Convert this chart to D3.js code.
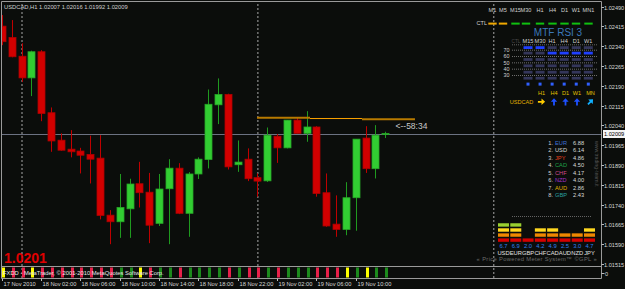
<!DOCTYPE html>
<html><head><meta charset="utf-8">
<script src="https://cdn.jsdelivr.net/npm/d3@7"></script>
<style>
html,body{margin:0;padding:0;background:#0b0d0b;overflow:hidden;}
svg{display:block;}
text{font-family:"Liberation Sans",Arial,sans-serif;}
</style></head><body>
<svg id="c" width="625" height="289"></svg>
<script>
// ---------------- DATA ----------------
const symbol = "USDCAD,H1";
const headerOHLC = ["1.02007","1.02016","1.01992","1.02009"];
const opens  = [1.02416,1.02373,1.02302,1.02220,1.02319,1.02088,1.01984,1.01950,1.01943,1.01930,1.01916,1.01700,1.01675,1.01724,1.01819,1.01787,1.01669,1.01800,1.01878,1.01707,1.01856,1.01911,1.02118,1.02157,1.01891,1.01912,1.01842,1.01830,1.01999,1.01955,1.02060,1.02010,1.02034,1.01785,1.01666,1.01646,1.01766,1.01992,1.01876,1.02007];
const highs  = [1.02458,1.02439,1.02351,1.02323,1.02325,1.02108,1.02010,1.02022,1.01955,1.02001,1.02003,1.01719,1.01856,1.01838,1.01902,1.01860,1.01856,1.01912,1.01897,1.01863,1.01919,1.02176,1.02218,1.02160,1.01983,1.01953,1.01858,1.02032,1.02007,1.02060,1.02070,1.02094,1.02037,1.01858,1.01775,1.01825,1.01988,1.02037,1.02041,1.02016];
const lows   = [1.02344,1.02298,1.02205,1.02151,1.02056,1.01940,1.01944,1.01919,1.01858,1.01820,1.01684,1.01590,1.01614,1.01614,1.01729,1.01594,1.01659,1.01590,1.01704,1.01618,1.01837,1.01877,1.02045,1.01873,1.01864,1.01829,1.01770,1.01826,1.01898,1.01953,1.02010,1.01978,1.01770,1.01656,1.01618,1.01624,1.01641,1.01860,1.01839,1.01992];
const closes = [1.02357,1.02300,1.02220,1.02319,1.02085,1.01981,1.01946,1.01940,1.01927,1.01912,1.01699,1.01675,1.01729,1.01818,1.01785,1.01662,1.01799,1.01878,1.01707,1.01856,1.01912,1.02120,1.02157,1.01883,1.01901,1.01838,1.01829,1.02003,1.01955,1.02060,1.02010,1.02034,1.01782,1.01659,1.01646,1.01766,1.01988,1.01876,1.02003,1.02009];
const signals = ["y","r","r","y","r","r","r","r","r","r","r","r","g","g","y","r","g","g","r","g","g","g","g","r","g","r","r","g","r","g","g","g","r","r","r","y","g","y","g","g"];
const priceTicks = [1.02490,1.02415,1.02340,1.02265,1.02190,1.02115,1.02040,1.01965,1.01890,1.01815,1.01740,1.01665,1.01590,1.01515];
const bidPrice = 1.02009;
const timeLabels = ["17 Nov 2010","18 Nov 02:00","18 Nov 06:00","18 Nov 10:00","18 Nov 14:00","18 Nov 18:00","18 Nov 22:00","19 Nov 02:00","19 Nov 06:00","19 Nov 10:00"];
const timeLabelBars = [0,4,8,12,16,20,24,28,32,36];
const separatorBars = [2,26,50];
const pivotStart = [25.96,31.35,36.64];
const pivotEnd   = [31.35,36.64,42.03];
const pivotPrice = [1.02069,1.02066,1.02063];
const countdown = "<--58:34";
const bigPrice = "1.0201";
const copyright = "FXDD - MetaTrader, © 2001-2010 MetaQuotes Software Corp.";

const tfTop = ["M1","M5","M15","M30","H1","H4","D1","W1","MN1"];
const ctlState = ["o","o","g","g","g","g","g","g","g"];
const rsiTf = ["M15","M30","H1","H4","D1","W1"];
const rsiValues = [74,73,66,65,64,63];
const rsiLevels = [70,60,50,40,30];
const trendTf = ["H1","H4","D1","W1","MN"];
const trendDir = ["right","up","up","up","upright"];
const pairName = "USDCAD";
const rankNames = ["EUR","USD","JPY","CAD","CHF","NZD","AUD","GBP"];
const rankValues = ["6.88","6.14","4.86","4.50","4.17","4.00","2.86","2.43"];
const rankColors = ["#3f6fd6","#d8d8d8","#e8401a","#1fa048","#d04a8a","#a030c8","#e0b000","#2aa0a0"];
const meterNames = ["USD","EUR","GBP","CHF","CAD","AUD","NZD","JPY"];
const meterValues = [6.7,6.9,2.0,4.2,4.9,2.5,3.0,4.7];

// ---------------- CHART ----------------
const svg = d3.select("#c");
const BG = "#0b0d0b";
svg.append("rect").attr("width",625).attr("height",289).attr("fill",BG);

const x = d3.scaleLinear().domain([2,26]).range([21.5,257.4]);
const y = d3.scaleLinear().domain([1.01515,1.02490]).range([264,6.6]);
const plotL = 1.5, plotR = 601.5, mainT = 1.5, mainB = 266.5, subT = 266.5, subB = 278.5;

const defs = svg.append("defs");
defs.append("clipPath").attr("id","mainClip").append("rect")
  .attr("x",plotL+0.5).attr("y",mainT+0.5).attr("width",plotR-plotL-1).attr("height",mainB-mainT-1);
defs.append("clipPath").attr("id","subClip").append("rect")
  .attr("x",plotL+0.5).attr("y",subT+0.5).attr("width",plotR-plotL-1).attr("height",subB-subT-1);

const main = svg.append("g").attr("clip-path","url(#mainClip)");
const sub = svg.append("g").attr("clip-path","url(#subClip)");

// day separators
separatorBars.forEach(b=>{
  [main,sub].forEach(g=>g.append("line").attr("x1",x(b)+0.5).attr("x2",x(b)+0.5)
    .attr("y1",0).attr("y2",289).attr("stroke","#a8a8a8").attr("stroke-width",1).attr("stroke-dasharray","2,2"));
});

// bid line
main.append("line").attr("x1",0).attr("x2",plotR).attr("y1",Math.round(y(bidPrice))+0.5).attr("y2",Math.round(y(bidPrice))+0.5)
  .attr("stroke","#6c7282").attr("stroke-width",1);

// candles
const bars = d3.range(opens.length).map(i=>({i,o:opens[i],h:highs[i],l:lows[i],c:closes[i]}));
const cg = main.append("g");
bars.forEach(d=>{
  const up = d.c >= d.o;
  const cx = Math.round(x(d.i))+0.5;
  cg.append("line").attr("x1",cx).attr("x2",cx).attr("y1",y(d.h)).attr("y2",y(d.l))
    .attr("stroke", up ? "#1f9a1f" : "#c00000").attr("stroke-width",1);
  const top = y(Math.max(d.o,d.c)), bot = y(Math.min(d.o,d.c));
  cg.append("rect").attr("x",cx-3.5).attr("y",top).attr("width",7).attr("height",Math.max(1,bot-top))
    .attr("fill", up ? "#32cd32" : "#d20000").attr("stroke", up ? "#27a827" : "#b00000").attr("stroke-width",0.8);
});

// pivot (orange) line
const pivColors = ["#b87a00","#ffa500","#b87a00"], pivW = [2,1,2];
pivotStart.forEach((s,k)=>{
  main.append("line").attr("x1",x(s)).attr("x2",x(pivotEnd[k])).attr("y1",y(pivotPrice[k])).attr("y2",y(pivotPrice[k]))
    .attr("stroke",pivColors[k]).attr("stroke-width",pivW[k]);
});
// countdown
main.append("text").attr("x",x(opens.length)+0.5).attr("y",y(bidPrice)-5).attr("font-size",8.5)
  .attr("fill","#c8c8c8").text(countdown);

// header
svg.append("text").attr("x",4).attr("y",8.6).attr("font-size",5.8).attr("fill","#cfcfcf")
  .text(symbol+"  "+headerOHLC.join(" "));

// big price
svg.append("text").attr("x",4).attr("y",262.5).attr("font-size",14).attr("font-weight","bold")
  .attr("fill","#e00000").text(bigPrice);

// sub window signal bars
const sigColor = {r:"#e8204a",g:"#1c8a1c",y:"#ffff00"};
sub.selectAll("rect.sig").data(signals).join("rect").attr("class","sig")
  .attr("x",(d,i)=>Math.round(x(i))).attr("y",subT+1).attr("width",3).attr("height",subB-subT-2)
  .attr("fill",d=>sigColor[d]);
sub.append("text").attr("x",3).attr("y",274.8).attr("font-size",5.8).attr("fill","#e8e8e8").text(copyright);

// frame lines
const frame = svg.append("g").attr("stroke","#9a9a9a").attr("stroke-width",1);
frame.append("line").attr("x1",plotL).attr("x2",plotR).attr("y1",mainT).attr("y2",mainT);
frame.append("line").attr("x1",plotL).attr("x2",plotL).attr("y1",mainT).attr("y2",subB);
frame.append("line").attr("x1",plotL).attr("x2",plotR).attr("y1",mainB).attr("y2",mainB);
frame.append("line").attr("x1",plotL).attr("x2",plotR).attr("y1",subB).attr("y2",subB);
frame.append("line").attr("x1",plotR).attr("x2",plotR).attr("y1",mainT).attr("y2",subB);

// right price axis
const axG = svg.append("g");
priceTicks.forEach(p=>{
  const yy = Math.round(y(p))+0.5;
  axG.append("line").attr("x1",plotR).attr("x2",plotR+2.5).attr("y1",yy).attr("y2",yy).attr("stroke","#bdbdbd");
  axG.append("text").attr("x",604).attr("y",yy+2).attr("font-size",5.6).attr("fill","#d8d8d8").text(p.toFixed(5));
});
// bid label box
const by = Math.round(y(bidPrice));
axG.append("rect").attr("x",603).attr("y",by-4).attr("width",22).attr("height",8).attr("fill","#f4f4f4");
axG.append("text").attr("x",604).attr("y",by+2.2).attr("font-size",5.6).attr("fill","#000").text(bidPrice.toFixed(5));
axG.append("line").attr("x1",plotR).attr("x2",plotR+3).attr("y1",273.5).attr("y2",273.5).attr("stroke","#bdbdbd");
axG.append("text").attr("x",605).attr("y",276).attr("font-size",5.6).attr("fill","#d8d8d8").text("0");

// time axis
timeLabelBars.forEach((b,k)=>{
  const xx = Math.round(x(b))+0.5;
  svg.append("line").attr("x1",xx).attr("x2",xx).attr("y1",subB).attr("y2",subB+2.5).attr("stroke","#bdbdbd");
  svg.append("text").attr("x",xx+1).attr("y",286.3).attr("font-size",5.7).attr("fill","#d8d8d8").text(timeLabels[k]);
});

// ---------------- MTF PANEL ----------------
const P = svg.append("g");
const tfX = [492.5,503,515.5,526,540,552.5,564.5,576,588.5];
tfTop.forEach((t,k)=>P.append("text").attr("x",tfX[k]).attr("y",12).attr("text-anchor","middle")
  .attr("font-size",5.6).attr("fill","#d0d0d0").text(t));
P.append("text").attr("x",487).attr("y",24.8).attr("text-anchor","end").attr("font-size",5.6).attr("fill","#d0d0d0").text("CTL");
ctlState.forEach((s,k)=>P.append("rect").attr("x",tfX[k]-4.2).attr("y",22.6).attr("width",8.4).attr("height",2)
  .attr("fill", s==="o" ? "#f0a800" : "#10c010"));

P.append("text").attr("x",558).attr("y",36.3).attr("text-anchor","middle").attr("font-size",10)
  .attr("fill","#3b78b8").text("MTF RSI 3");

const rsiX = d3.scaleLinear().domain([0,5]).range([528,588.3]);
P.append("text").attr("x",516).attr("y",43).attr("text-anchor","middle").attr("font-size",4.8).attr("fill","#4a4a4a").text("CTL");
rsiTf.forEach((t,k)=>P.append("text").attr("x",rsiX(k)).attr("y",43).attr("text-anchor","middle")
  .attr("font-size",5.6).attr("fill","#d0d0d0").text(t));
const lvlY = d3.scaleLinear().domain([70,30]).range([50.2,75.5]);
P.append("line").attr("x1",512).attr("x2",597).attr("y1",44.8).attr("y2",44.8).attr("stroke","#8a8a8a")
  .attr("stroke-width",0.7).attr("stroke-dasharray","1,1");
rsiLevels.forEach(L=>{
  P.append("line").attr("x1",512).attr("x2",597).attr("y1",lvlY(L)).attr("y2",lvlY(L)).attr("stroke","#9a9a9a")
    .attr("stroke-width",0.7).attr("stroke-dasharray","1,1");
  P.append("text").attr("x",509.5).attr("y",lvlY(L)+1.8).attr("text-anchor","end").attr("font-size",5.4)
    .attr("fill","#d0d0d0").text(L);
});
// 6 rows: >70, 60-70, 50-60, 40-50, 30-40, <30
const rowCenters = [47.6,53.1,59.5,65.8,72.2,78.2];
const bandOf = v => v>=70?0: v>=60?1: v>=50?2: v>=40?3: v>=30?4:5;
rsiValues.forEach((v,k)=>{
  rowCenters.forEach((rc,r)=>{
    P.append("rect").attr("x",rsiX(k)-4.5).attr("y",rc-1.4).attr("width",9).attr("height",2.8)
      .attr("fill", bandOf(v)===r ? "#2040ff" : "#34365a");
  });
  P.append("rect").attr("x",rsiX(k)-1.5).attr("y",82.6).attr("width",3).attr("height",3).attr("fill","#3060ff");
});

// trend row
const trendX = [541.5,554,565.5,577,590.5];
trendTf.forEach((t,k)=>P.append("text").attr("x",trendX[k]).attr("y",95).attr("text-anchor","middle")
  .attr("font-size",5.6).attr("fill","#e0c000").text(t));
P.append("text").attr("x",521.5).attr("y",103.8).attr("text-anchor","middle").attr("font-size",5.6)
  .attr("fill","#e0b000").text(pairName);
const dirInfo = {right:{a:0,c:"#ffcc00"},up:{a:-90,c:"#1e50ff"},upright:{a:-45,c:"#10b0ff"}};
trendDir.forEach((d,k)=>{
  P.append("path").attr("d","M-3.6,-0.9 L0,-0.9 L0,-3.2 L3.6,0 L0,3.2 L0,0.9 L-3.6,0.9 Z")
    .attr("fill",dirInfo[d].c).attr("transform",`translate(${trendX[k]},${101.8}) rotate(${dirInfo[d].a})`);
});

// rank table
rankNames.forEach((n,k)=>{
  const yy = 144.8 + k*7.45;
  P.append("text").attr("x",553).attr("y",yy).attr("text-anchor","end").attr("font-size",5.7).attr("fill","#d0d0d0").text((k+1)+".");
  P.append("text").attr("x",555).attr("y",yy).attr("font-size",5.7).attr("fill",rankColors[k]).text(n);
  P.append("text").attr("x",573).attr("y",yy).attr("font-size",5.7).attr("fill","#d8d8d8").text(rankValues[k]);
});
P.append("text").attr("transform","translate(594.5,141) rotate(90)").attr("font-size",5.2).attr("fill","#555")
  .text("www.trading-team.it");

// meter
P.append("line").attr("x1",512).attr("x2",592).attr("y1",216.5).attr("y2",216.5).attr("stroke","#8a8a8a")
  .attr("stroke-width",0.7).attr("stroke-dasharray","1,1");
const mX = d3.scaleLinear().domain([0,7]).range([503.5,589.5]);
const segColors = ["#d40000","#f08800","#ffd820","#9ad030"];
const segCount = v => v>=6?4: v>=4?3: v>=2.5?2:1;
meterValues.forEach((v,k)=>{
  for(let s=0;s<segCount(v);s++){
    P.append("rect").attr("x",mX(k)-5.5).attr("y",238.4 - s*5.05).attr("width",11).attr("height",3.4).attr("fill",segColors[s]);
  }
  P.append("text").attr("x",mX(k)).attr("y",247.5).attr("text-anchor","middle").attr("font-size",5.8)
    .attr("fill","#2f80f0").text(v.toFixed(1));
  P.append("text").attr("x",mX(k)).attr("y",255).attr("text-anchor","middle").attr("font-size",5.8)
    .attr("fill","#e0e0e0").text(meterNames[k]);
});
P.append("text").attr("x",597).attr("y",261).attr("text-anchor","end").attr("font-size",5.8)
  .attr("letter-spacing",0.35).attr("fill","#6a6a6a").text("« Price Powered Meter System™ ©GPL »");
</script>
</body></html>
